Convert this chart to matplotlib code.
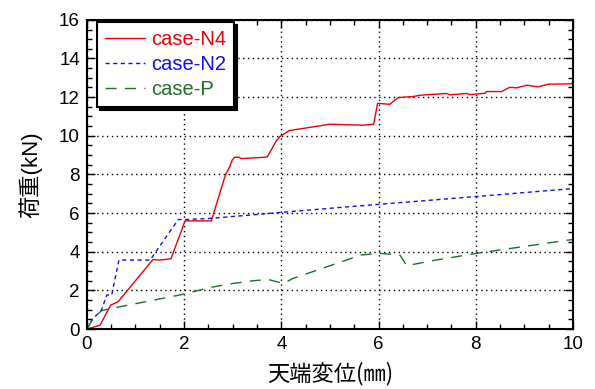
import matplotlib
matplotlib.use("Agg")
import matplotlib.pyplot as plt
from matplotlib.ticker import MultipleLocator

# Load–displacement curves
n4_disp = [0.0, 0.27, 0.49, 0.64, 1.36, 1.50, 1.73, 2.02, 2.56, 2.85, 2.94, 2.99,
           3.04, 3.13, 3.18, 3.71, 3.90, 3.97, 4.16, 5.00, 5.69, 5.90, 5.98, 6.23,
           6.40, 6.71, 6.85, 7.40, 7.47, 7.81, 7.88, 8.19, 8.22, 8.53, 8.70, 8.84,
           9.05, 9.28, 9.49, 9.97, 10.0]
n4_load = [0.0, 0.20, 1.24, 1.41, 3.60, 3.57, 3.64, 5.60, 5.60, 7.97, 8.40, 8.75,
           8.89, 8.89, 8.82, 8.90, 9.75, 9.96, 10.27, 10.60, 10.55, 10.60, 11.68, 11.63,
           11.98, 12.03, 12.10, 12.19, 12.12, 12.19, 12.13, 12.20, 12.29, 12.29, 12.51, 12.48,
           12.62, 12.53, 12.67, 12.69, 12.81]

n2_disp = [0.0, 0.10, 0.30, 0.41, 0.51, 0.66, 1.30, 1.88, 2.05, 2.56, 3.97, 5.14,
           6.03, 8.02, 10.0]
n2_load = [0.0, 0.47, 0.98, 1.76, 1.76, 3.57, 3.57, 5.67, 5.67, 5.73, 6.03, 6.28,
           6.46, 6.86, 7.27]

p_disp = [0.0, 0.13, 0.30, 0.51, 1.98, 2.53, 3.00, 3.42, 3.73, 4.04, 4.24, 5.44,
          5.62, 6.03, 6.44, 6.58, 7.06, 8.02, 10.0]
p_load = [0.0, 0.55, 0.95, 1.07, 1.80, 2.15, 2.36, 2.50, 2.57, 2.36, 2.62, 3.66,
          3.83, 3.92, 3.83, 3.28, 3.52, 3.92, 4.64]

series_labels = ["case-N4", "case-N2", "case-P"]
x_ticks = [0, 2, 4, 6, 8, 10]
y_ticks = [0, 2, 4, 6, 8, 10, 12, 14, 16]

plt.rcParams["font.family"] = ["Liberation Sans", "Noto Sans CJK JP", "DejaVu Sans"]

fig = plt.figure(figsize=(5.95, 3.89), dpi=100)
ax = fig.add_axes([0.146, 0.154, 0.817, 0.795])

c_red, c_blue, c_green = "#e8000b", "#1010ee", "#1f6e2a"
ax.plot(n4_disp, n4_load, color=c_red, lw=1.0, label=series_labels[0])
ax.plot(n2_disp, n2_load, color=c_blue, lw=1.0, linestyle=(0, (3, 2.5)), label=series_labels[1])
ax.plot(p_disp, p_load, color=c_green, lw=1.0, linestyle=(0, (8, 6)), label=series_labels[2])

ax.set_xlim(0, 10)
ax.set_ylim(0, 16)
ax.set_xticks(x_ticks)
ax.set_yticks(y_ticks)
ax.xaxis.set_minor_locator(MultipleLocator(0.5))
ax.yaxis.set_minor_locator(MultipleLocator(0.5))
ax.tick_params(which="both", direction="in", top=True, right=True, labelsize=13.5, width=1.0)
ax.tick_params(which="major", length=6, pad=5)
ax.tick_params(which="minor", length=3.5)
for s in ax.spines.values():
    s.set_linewidth(1.5)

ax.grid(True, which="major", color="black", linestyle=(0, (1, 2.5)), linewidth=1.0)

ax.set_xlabel("天端変位(㎜)", fontsize=16, family=["Noto Sans CJK JP", "DejaVu Sans"], labelpad=6)
ax.set_ylabel("荷重(kN)", fontsize=16, family=["Liberation Sans", "Noto Sans CJK JP"], labelpad=12)

leg = ax.legend(loc="upper left", bbox_to_anchor=(0.0206, 0.9935), borderaxespad=0,
                fontsize=14.5, fancybox=False, framealpha=1, edgecolor="black",
                handlelength=2.0, handletextpad=0.3, borderpad=0.4, labelspacing=0.3,
                shadow={"color": "black", "alpha": 1.0})
leg.get_frame().set_linewidth(1.5)
for txt, col in zip(leg.get_texts(), [c_red, c_blue, c_green]):
    txt.set_color(col)

fig.savefig("out.png", dpi=100)
